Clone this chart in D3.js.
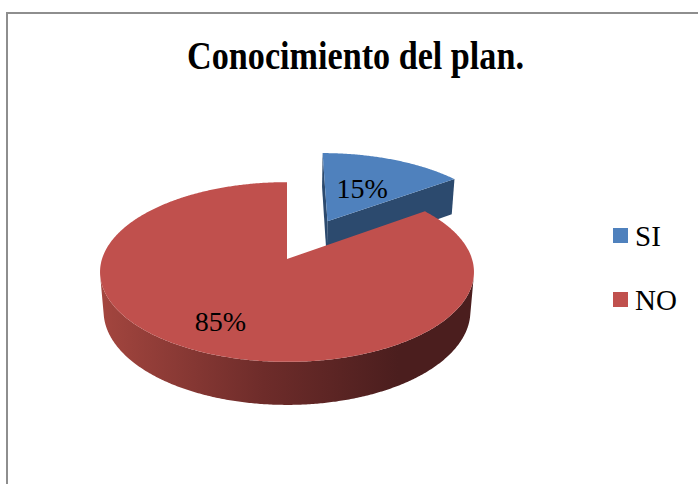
<!DOCTYPE html>
<html>
<head>
<meta charset="utf-8">
<script src="https://cdn.jsdelivr.net/npm/d3@7"></script>
<style>
  html, body { margin: 0; padding: 0; background: #ffffff; }
  svg { display: block; }
  text { font-family: "Liberation Serif", "Times New Roman", Tinos, serif; }
</style>
</head>
<body>
<svg id="chart" width="698" height="484"></svg>
<script>
// ---- data ----
const categories = ["SI", "NO"];
const values = [15, 85];
const valueLabels = ["15%", "85%"];
const title = "Conocimiento del plan.";

// ---- style / layout ----
const topColors = ["#4F81BD", "#C0504D"];
const sideColors = ["#2C4A6E", "url(#redSide)"];
const explodeDist = [95, 0];
const labelRadius = [0.5, 0.72];

const W = 698, H = 484;
const cx = 287, cy = 259, R = 185, depth = 45;
const phi = 28.4 * Math.PI / 180, dist = 1125;
const cosP = Math.cos(phi), sinP = Math.sin(phi);

const svg = d3.select("#chart");
const defs = svg.append("defs");

// chart border
svg.append("rect")
  .attr("x", 7).attr("y", 13)
  .attr("width", W + 20).attr("height", H + 20)
  .attr("fill", "none").attr("stroke", "#8E8E8E").attr("stroke-width", 2);

// projection world -> screen
function proj(X, Y, Z) {
  const yc = Y * cosP + Z * sinP;
  const zc = -Y * sinP + Z * cosP;
  const s = dist / (dist + zc);
  return [cx + X * s, cy - yc * s];
}
const cam = [0, dist * sinP, -dist * cosP];

const grad = defs.append("linearGradient")
  .attr("id", "redSide").attr("gradientUnits", "userSpaceOnUse")
  .attr("x1", cx - R * 1.02).attr("x2", cx + R * 0.6)
  .attr("y1", 0).attr("y2", 0);
grad.append("stop").attr("offset", 0).attr("stop-color", "#A4463F");
grad.append("stop").attr("offset", 0.55).attr("stop-color", "#6E2C2A");
grad.append("stop").attr("offset", 1).attr("stop-color", "#4B1E1E");

const pie = d3.pie().sort(null).value(d => d);
const arcs = pie(values).map((a, i) => {
  const mid = (a.startAngle + a.endAngle) / 2;
  const e = explodeDist[i];
  return { ...a, i, mid, ox: e * Math.sin(mid), oz: e * Math.cos(mid) };
});

const line = d3.line();
const step = Math.PI / 360;

function rimPts(a, t0, t1, Y) {
  const pts = [];
  const n = Math.max(2, Math.ceil(Math.abs(t1 - t0) / step));
  for (let k = 0; k <= n; k++) {
    const t = t0 + (t1 - t0) * k / n;
    pts.push(proj(a.ox + R * Math.sin(t), Y, a.oz + R * Math.cos(t)));
  }
  return pts;
}

// draw back slices first
const order = arcs.slice().sort((p, q) => q.oz - p.oz);
const g = svg.append("g");

order.forEach(a => {
  const sg = g.append("g");
  const P = [a.ox, 0, a.oz];
  // radial faces
  [[a.startAngle, [-Math.cos(a.startAngle), Math.sin(a.startAngle)]],
   [a.endAngle, [Math.cos(a.endAngle), -Math.sin(a.endAngle)]]].forEach(([t, n]) => {
    const dot = (cam[0] - P[0]) * n[0] + (cam[2] - P[2]) * n[1];
    if (dot > 1e-6) {
      const pts = [proj(a.ox, 0, a.oz),
        proj(a.ox + R * Math.sin(t), 0, a.oz + R * Math.cos(t)),
        proj(a.ox + R * Math.sin(t), -depth, a.oz + R * Math.cos(t)),
        proj(a.ox, -depth, a.oz)];
      sg.append("path").attr("d", line(pts) + "Z").attr("fill", sideColors[a.i] === "url(#redSide)" ? "#4B1E1E" : sideColors[a.i]);
    }
  });
  // outer wall: visible runs
  const n = Math.ceil((a.endAngle - a.startAngle) / step);
  let run = null;
  const runs = [];
  for (let k = 0; k <= n; k++) {
    const t = a.startAngle + (a.endAngle - a.startAngle) * k / n;
    const px = a.ox + R * Math.sin(t), pz = a.oz + R * Math.cos(t);
    const vis = (cam[0] - px) * Math.sin(t) + (cam[2] - pz) * Math.cos(t) > 0;
    if (vis) { if (!run) { run = [t, t]; runs.push(run); } else run[1] = t; }
    else run = null;
  }
  runs.forEach(([t0, t1]) => {
    const pts = rimPts(a, t0, t1, 0).concat(rimPts(a, t1, t0, -depth));
    sg.append("path").attr("d", line(pts) + "Z").attr("fill", sideColors[a.i]);
  });
  // top face
  const topPts = [proj(a.ox, 0, a.oz)].concat(rimPts(a, a.startAngle, a.endAngle, 0));
  sg.append("path").attr("d", line(topPts) + "Z").attr("fill", topColors[a.i]);
});

// data labels
arcs.forEach(a => {
  const r = R * labelRadius[a.i];
  const p = proj(a.ox + r * Math.sin(a.mid), 0, a.oz + r * Math.cos(a.mid));
  svg.append("text")
    .attr("x", p[0]).attr("y", p[1])
    .attr("text-anchor", "middle").attr("dominant-baseline", "central")
    .style("font-size", "28px").attr("fill", "#000")
    .text(valueLabels[a.i]);
});

// legend
const legend = svg.append("g").attr("transform", "translate(613,235.5)");
categories.forEach((c, i) => {
  const row = legend.append("g").attr("transform", `translate(0,${i * 64})`);
  row.append("rect").attr("x", 0).attr("y", -7.5).attr("width", 15).attr("height", 15)
    .attr("fill", topColors[i]);
  row.append("text").attr("x", 22).attr("y", 0)
    .attr("dominant-baseline", "central")
    .style("font-size", "29px").attr("fill", "#000")
    .text(c);
});

// title
svg.append("g").attr("transform", "translate(355.5,69) scale(0.876,1)")
  .append("text")
  .attr("x", 0).attr("y", 0).attr("text-anchor", "middle")
  .style("font-weight", "bold").style("font-size", "39px").attr("fill", "#000")
  .text(title);
</script>
</body>
</html>
